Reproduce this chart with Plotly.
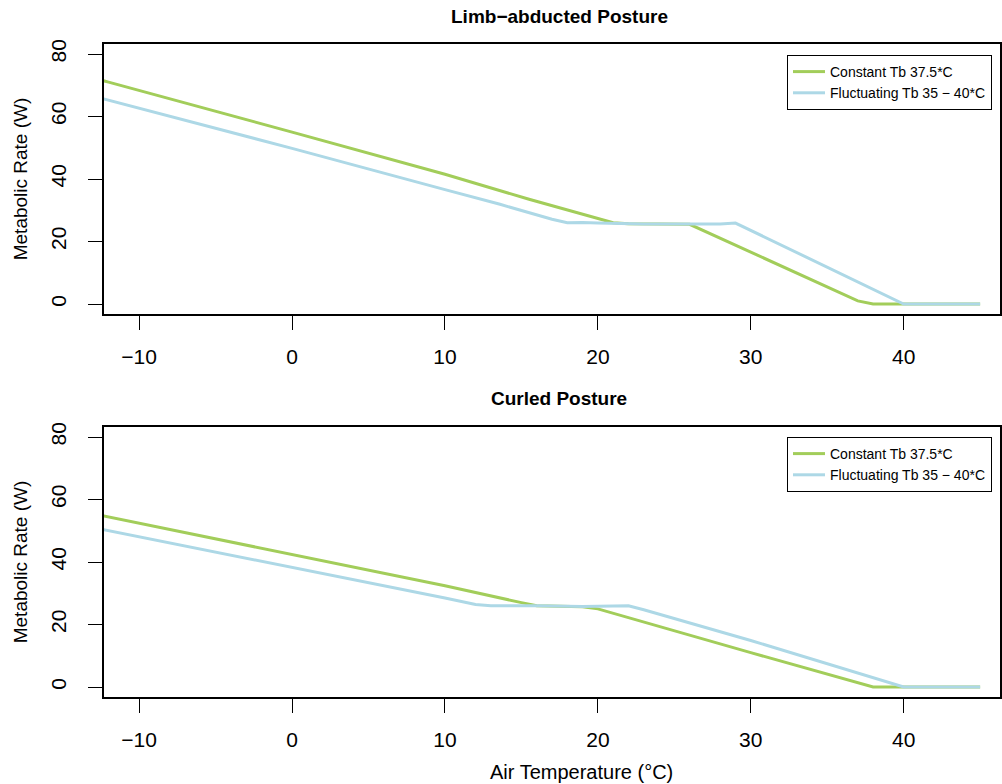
import plotly.graph_objects as go

# ---- Data (Air temperature °C -> Metabolic rate W) ----
# Limb-abducted posture
abd_const_t = [-13, -12, 0, 10, 15.5, 20, 21, 22, 26, 30, 36, 37, 38, 45]
abd_const_w = [72.3, 71.0, 55.0, 41.5, 33.5, 27.3, 26.0, 25.7, 25.5, 16.6, 3.3, 1.0, 0.0, 0.0]
abd_fluct_t = [-13, 0, 10, 13.6, 17, 18, 19, 20, 23, 26, 27, 28, 29, 40, 45]
abd_fluct_w = [66.5, 49.8, 36.6, 31.9, 27.1, 26.0, 26.1, 25.9, 25.6, 25.6, 25.8, 25.6, 25.9, 0.0, 0.0]

# Curled posture
cur_const_t = [-13, 0, 7, 10, 15, 16, 19, 20, 30, 37, 38, 45]
cur_const_w = [55.4, 42.4, 35.5, 32.4, 27.0, 26.0, 25.7, 25.0, 11.0, 1.2, 0.0, 0.0]
cur_fluct_t = [-13, 0, 7, 10, 12, 13, 16, 19, 22, 23, 30, 40, 45]
cur_fluct_w = [51.0, 38.4, 31.5, 28.5, 26.4, 26.0, 26.0, 25.8, 26.0, 24.7, 14.9, 0.0, 0.0]

series_names = ["Constant Tb 37.5*C", "Fluctuating Tb 35 \u2212 40*C"]
panel_titles = ["Limb\u2212abducted Posture", "Curled Posture"]
x_title = "Air Temperature (\u00b0C)"
y_title = "Metabolic Rate (W)"
x_ticks = [-10, 0, 10, 20, 30, 40]
y_ticks = [0, 20, 40, 60, 80]

GREEN = "#A2CD5A"
BLUE = "#ADD8E6"
FONT = "Liberation Sans, Arial, Helvetica, sans-serif"

fig = go.Figure()

fig.add_trace(go.Scatter(x=abd_const_t, y=abd_const_w, mode="lines", name=series_names[0],
                         line=dict(color=GREEN, width=3), xaxis="x", yaxis="y", legend="legend"))
fig.add_trace(go.Scatter(x=abd_fluct_t, y=abd_fluct_w, mode="lines", name=series_names[1],
                         line=dict(color=BLUE, width=3), xaxis="x", yaxis="y", legend="legend"))
fig.add_trace(go.Scatter(x=cur_const_t, y=cur_const_w, mode="lines", name=series_names[0],
                         line=dict(color=GREEN, width=3), xaxis="x2", yaxis="y2", legend="legend2"))
fig.add_trace(go.Scatter(x=cur_fluct_t, y=cur_fluct_w, mode="lines", name=series_names[1],
                         line=dict(color=BLUE, width=3), xaxis="x2", yaxis="y2", legend="legend2"))

H_PLOT = 653.0  # 784 - 44 - 87
def py(pix):
    return (697 - pix) / H_PLOT
def px(pix):
    return (pix - 104) / 896.0

common_x = dict(range=[-12.3, 46.3], tickvals=x_ticks, ticks="outside", ticklen=14, tickwidth=1.2,
                tickcolor="black", showline=True, linecolor="black", linewidth=1.5, mirror=True,
                showgrid=False, zeroline=False, tickfont=dict(size=21, color="black", family=FONT),
                ticklabelstandoff=9, automargin=False)
common_y = dict(range=[-3.2, 83.2], tickvals=y_ticks, ticks="outside", ticklen=14, tickwidth=1.2,
                tickcolor="black", showline=True, linecolor="black", linewidth=1.5, mirror=True,
                showgrid=False, zeroline=False, tickangle=-90,
                tickfont=dict(size=21, color="black", family=FONT), ticklabelstandoff=14,
                automargin=False)

legend_common = dict(bordercolor="black", borderwidth=1, bgcolor="white",
                     font=dict(size=14, color="black", family=FONT),
                     xanchor="right", yanchor="top", x=px(992),
                     tracegroupgap=0, itemwidth=32)

fig.update_layout(
    width=1002, height=784,
    margin=dict(l=104, r=2, t=44, b=87, autoexpand=False),
    paper_bgcolor="white", plot_bgcolor="white",
    font=dict(family=FONT, color="black"),
    xaxis=dict(domain=[0, 1], anchor="y", **common_x),
    yaxis=dict(domain=[py(314), 1], anchor="x",
               title=dict(text=y_title, font=dict(size=19, family=FONT), standoff=14),
               **common_y),
    xaxis2=dict(domain=[0, 1], anchor="y2", **common_x),
    yaxis2=dict(domain=[0, py(427)], anchor="x2",
                title=dict(text=y_title, font=dict(size=19, family=FONT), standoff=14),
                **common_y),
    legend=dict(y=py(55), **legend_common),
    legend2=dict(y=py(437), **legend_common),
    showlegend=True,
    annotations=[
        dict(text="<b>" + panel_titles[0] + "</b>", x=px(559), y=py(17), xref="paper", yref="paper",
             showarrow=False, xanchor="center", yanchor="middle",
             font=dict(size=19, family=FONT, color="black")),
        dict(text="<b>" + panel_titles[1] + "</b>", x=px(559), y=py(399), xref="paper", yref="paper",
             showarrow=False, xanchor="center", yanchor="middle",
             font=dict(size=19, family=FONT, color="black")),
        dict(text=x_title, x=px(581), y=py(772), xref="paper", yref="paper",
             showarrow=False, xanchor="center", yanchor="middle",
             font=dict(size=20, family=FONT, color="black")),
    ],
)

fig.write_html("out.html", config={"displayModeBar": False},
               post_script="document.body.style.margin='0';document.body.style.overflow='hidden';")
